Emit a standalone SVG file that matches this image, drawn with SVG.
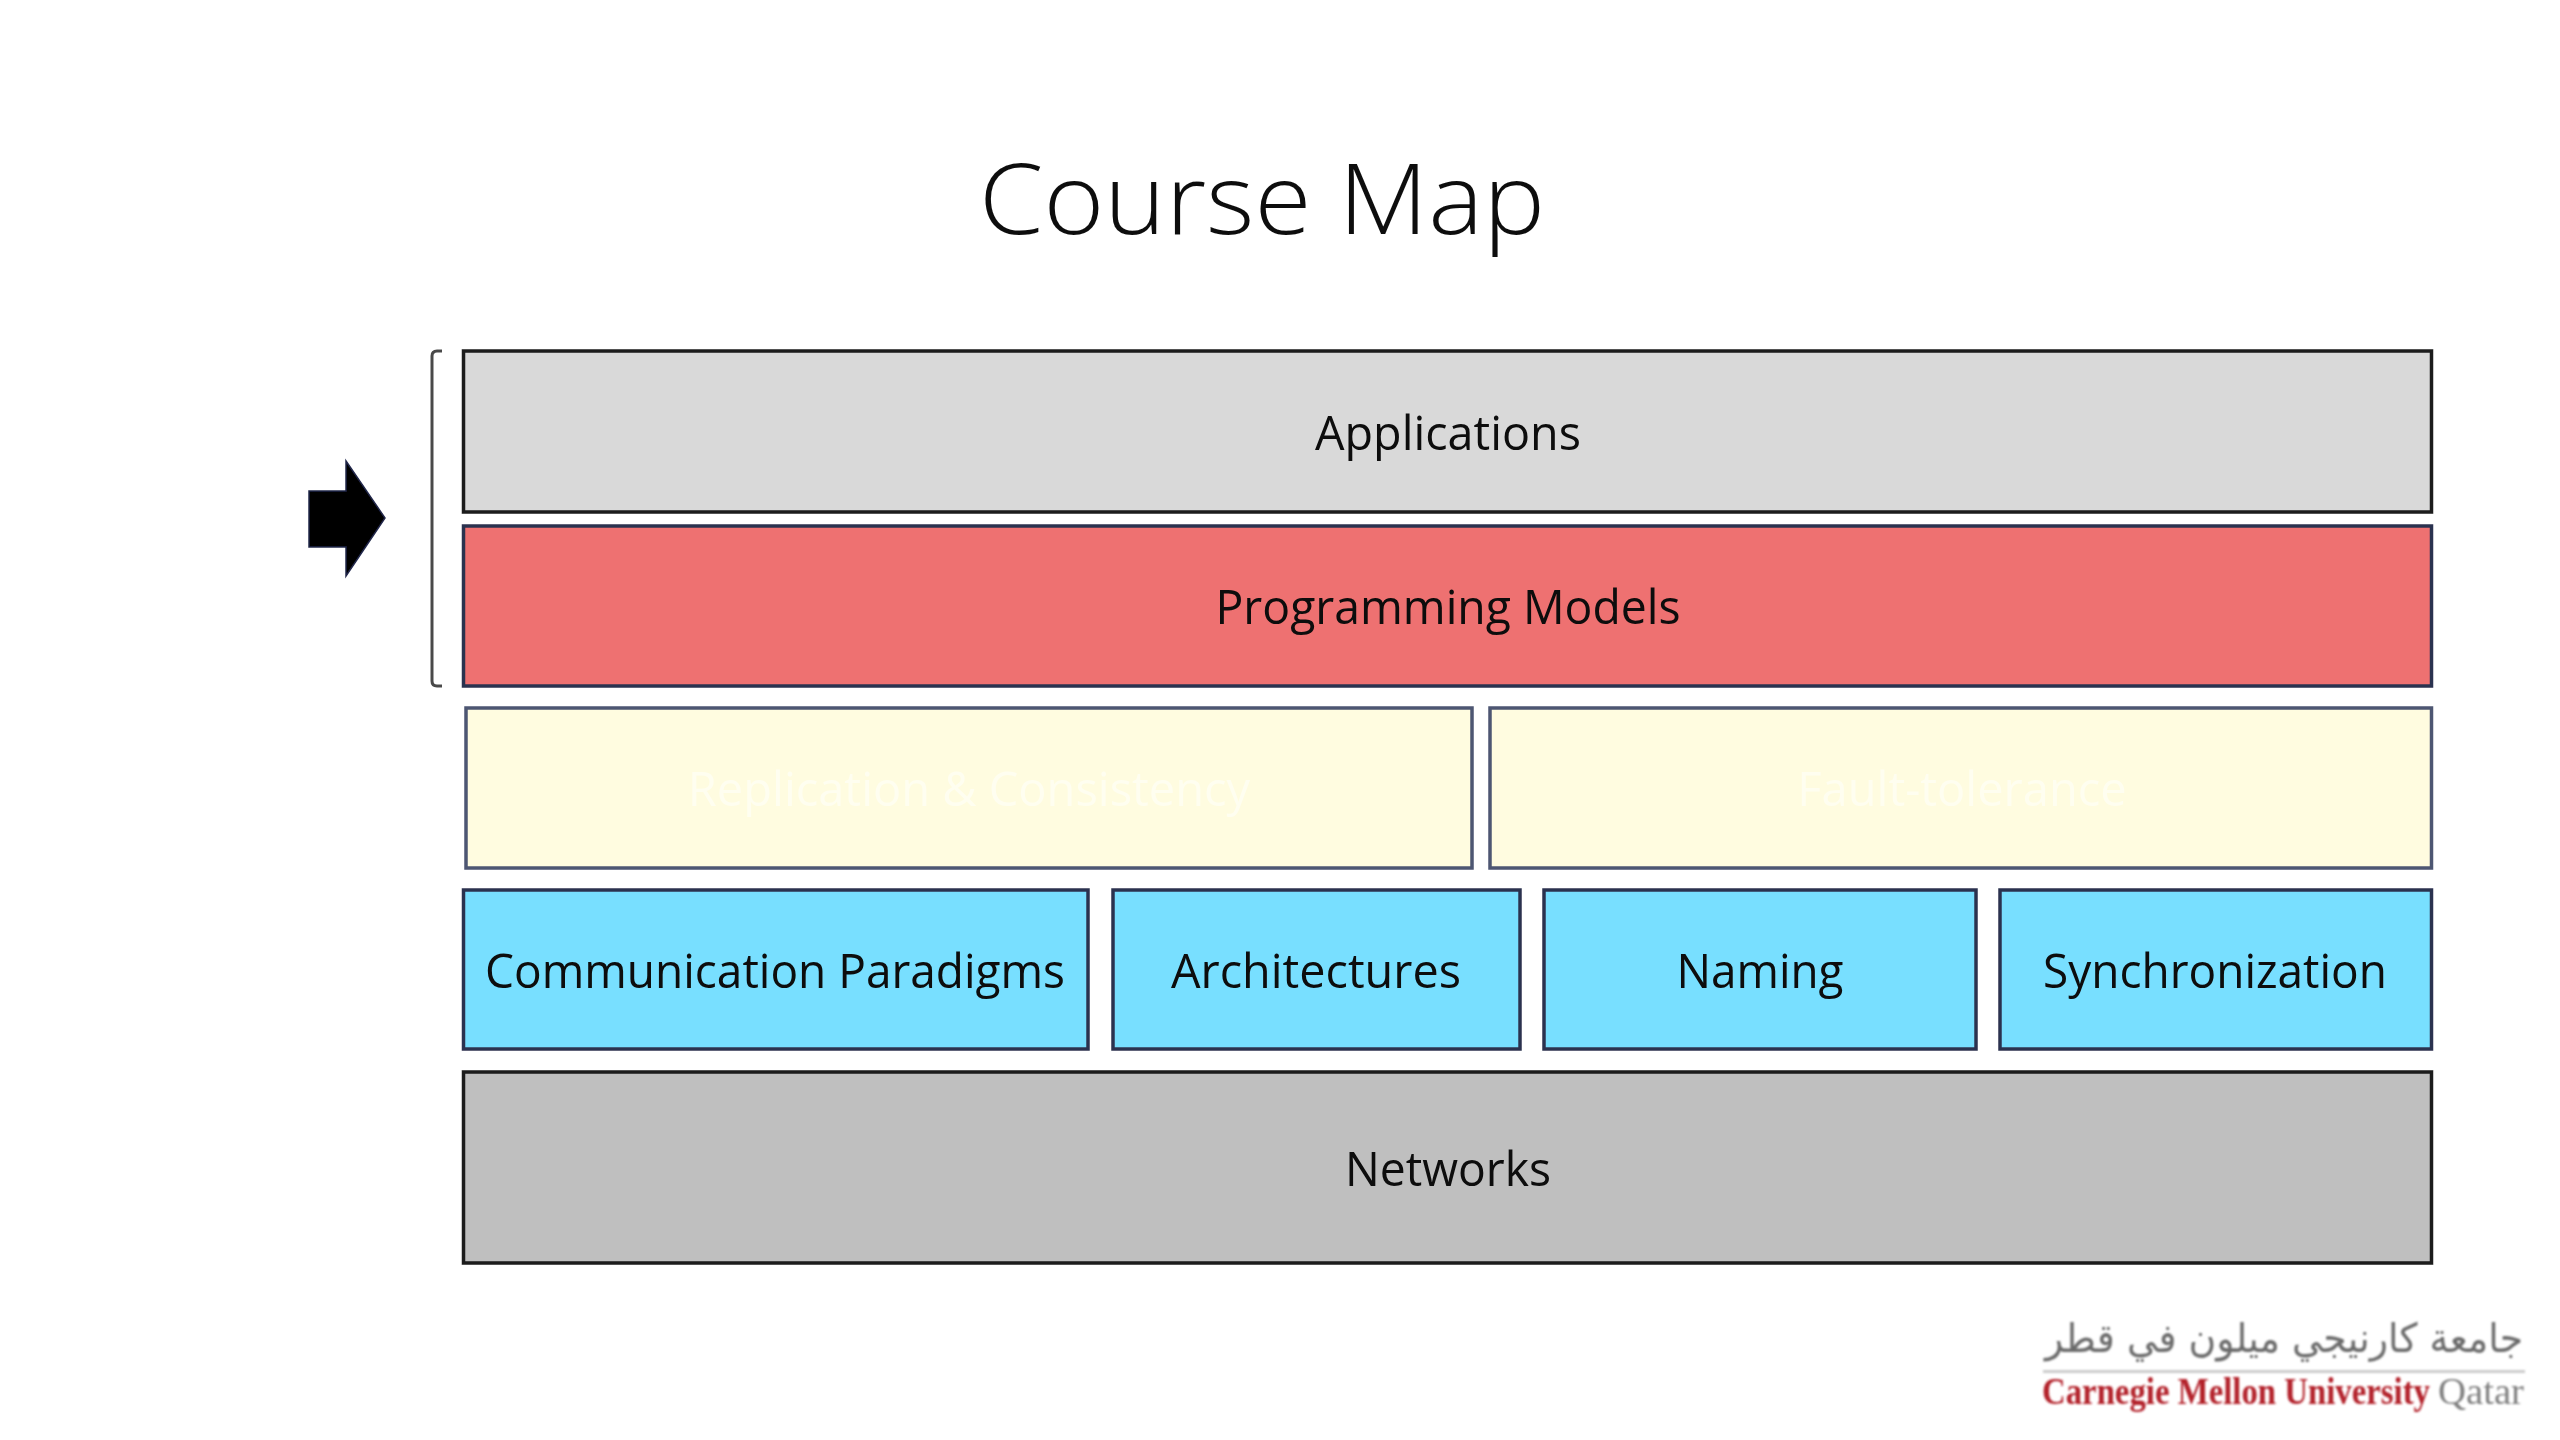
<svg xmlns="http://www.w3.org/2000/svg" width="2560" height="1440" viewBox="0 0 2560 1440">
<style>
.box{stroke-width:3.5;stroke:#2c3350}
.lbl{font-family:"Open Sans","Noto Sans",sans-serif;font-size:47px;fill:#0a0a0a;text-anchor:middle}
.faint{fill:#fffef0}
</style>
<defs>
<filter id="soft" x="-2%" y="-2%" width="104%" height="104%"><feGaussianBlur stdDeviation="0.7"/></filter>
<filter id="softer" x="-2%" y="-5%" width="104%" height="110%"><feGaussianBlur stdDeviation="1"/></filter>
</defs>
<rect width="2560" height="1440" fill="#ffffff"/>
<g filter="url(#soft)">
<text id="title" x="1262" y="234" font-family="'Open Sans','Noto Sans',sans-serif" font-weight="300" font-size="98" fill="#111" text-anchor="middle" textLength="566" lengthAdjust="spacingAndGlyphs">Course Map</text>
<g id="connectors">
<path id="bracket" d="M442 351H437Q432 351 432 356V681Q432 686 437 686H442" fill="none" stroke="#4a4a4a" stroke-width="3"/>
</g>
<g id="arrow"><polygon points="309,491 346,491 346,461 385,518 346,576 346,547 309,547" fill="#000" stroke="#20264a" stroke-width="1.5"/></g>
<g id="applications"><rect class="box" style="stroke:#1a1a1a" x="463.5" y="351" width="1968" height="161" fill="#d9d9d9"/><text class="lbl" x="1448" y="450" textLength="266" lengthAdjust="spacingAndGlyphs">Applications</text></g>
<g id="programming-models"><rect class="box" x="463.5" y="526" width="1968" height="160" fill="#ee7171"/><text class="lbl" x="1448" y="624" textLength="465" lengthAdjust="spacingAndGlyphs">Programming Models</text></g>
<g id="replication"><rect class="box" style="stroke:#4d5672" x="466" y="708" width="1006" height="160" fill="#fffce0"/><text class="lbl faint" x="969" y="806">Replication &amp; Consistency</text></g>
<g id="fault-tolerance"><rect class="box" style="stroke:#4d5672" x="1490" y="708" width="941.5" height="160" fill="#fffce0"/><text class="lbl faint" x="1962" y="806">Fault-tolerance</text></g>
<g id="communication"><rect class="box" x="463.5" y="890" width="624.5" height="159" fill="#78dfff"/><text class="lbl" x="775" y="988" textLength="580" lengthAdjust="spacingAndGlyphs">Communication Paradigms</text></g>
<g id="architectures"><rect class="box" x="1113" y="890" width="407" height="159" fill="#78dfff"/><text class="lbl" x="1316" y="988" textLength="290" lengthAdjust="spacingAndGlyphs">Architectures</text></g>
<g id="naming"><rect class="box" x="1544" y="890" width="432" height="159" fill="#78dfff"/><text class="lbl" x="1760" y="988" textLength="167" lengthAdjust="spacingAndGlyphs">Naming</text></g>
<g id="synchronization"><rect class="box" x="2000" y="890" width="431.5" height="159" fill="#78dfff"/><text class="lbl" x="2215" y="988" textLength="344" lengthAdjust="spacingAndGlyphs">Synchronization</text></g>
<g id="networks"><rect class="box" style="stroke:#1a1a1a" x="463.5" y="1072" width="1968" height="191" fill="#bfbfbf"/><text class="lbl" x="1448" y="1186" textLength="206" lengthAdjust="spacingAndGlyphs">Networks</text></g>
</g>
<g id="logo" filter="url(#softer)">
<text x="2045" y="1352" font-family="'DejaVu Sans',sans-serif" font-size="40" fill="#6b6b6b" textLength="478" lengthAdjust="spacingAndGlyphs">جامعة كارنيجي ميلون في قطر</text>
<rect x="2043" y="1370" width="482" height="3" fill="#cccccc"/>
<text x="2042" y="1404" font-family="'Liberation Serif',serif" font-weight="700" font-size="38" fill="#b3202a" textLength="388" lengthAdjust="spacingAndGlyphs">Carnegie Mellon University</text>
<text x="2438" y="1404" font-family="'Liberation Serif',serif" font-size="38" fill="#808080" textLength="86" lengthAdjust="spacingAndGlyphs">Qatar</text>
</g>
</svg>
